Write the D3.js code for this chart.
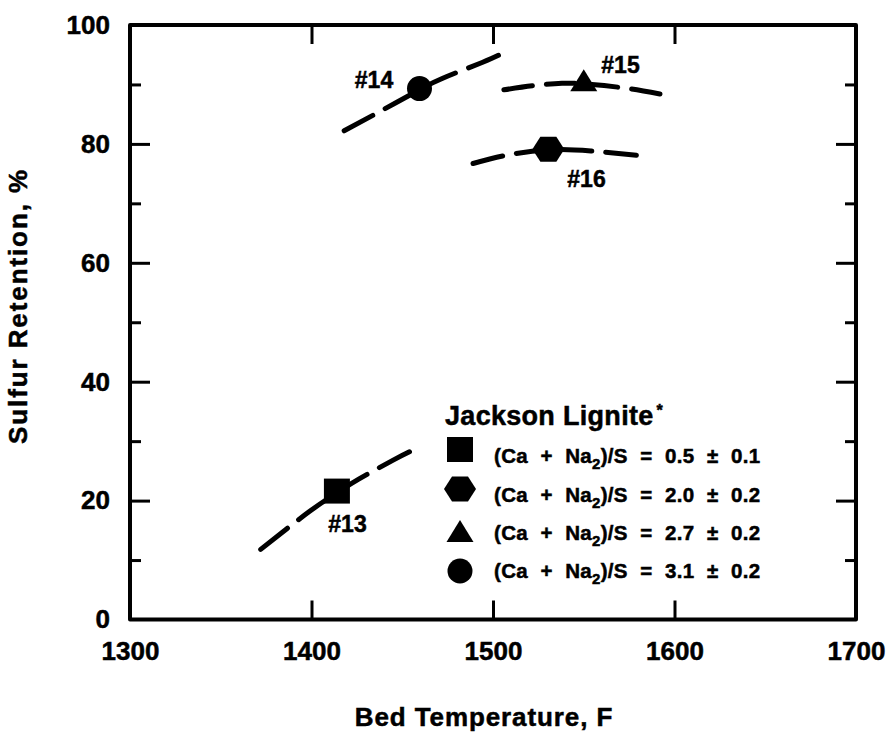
<!DOCTYPE html>
<html>
<head>
<meta charset="utf-8">
<script src="https://cdn.jsdelivr.net/npm/d3@7"></script>
<style>
  html, body { margin: 0; padding: 0; background: #fff; }
  svg { display: block; }
  text { font-family: "Liberation Sans", Arial, Helvetica, sans-serif; font-weight: bold; fill: #000;
         stroke: #000; stroke-width: 0.5px; }
</style>
</head>
<body>
<svg id="chart" width="890" height="733"></svg>
<script>
// Sulfur retention vs. bed temperature, Jackson lignite runs #13-#16
const xTicks = [1300, 1400, 1500, 1600, 1700];
const yMajorTicks = [0, 20, 40, 60, 80, 100];
const yMinorTicks = [10, 30, 50, 70, 90];

// Test points: [bed temperature F, sulfur retention %]
const runs = ["#13", "#16", "#15", "#14"];
const runSymbols = ["square", "hexagon", "triangle", "circle"];
const runTemps = [1414, 1530.5, 1550, 1459.5];
const runRetention = [21.6, 79.1, 90.7, 89.3];

// Dashed trend curves through each run
const curve13 = [[1372, 11.8], [1399, 18.2], [1414, 21.3], [1426, 23.6], [1445, 26.8], [1454, 28.2]];
const curve14 = [[1418, 82.2], [1447, 87.0], [1459.5, 89.1], [1472, 91.0], [1494, 93.7], [1503, 94.9]];
const curve15 = [[1506, 89.1], [1522, 89.8], [1538, 90.2], [1550, 90.1], [1570, 89.5], [1592, 88.4]];
const curve16 = [[1489, 76.7], [1507.5, 78.1], [1530.5, 79.0], [1554, 78.8], [1579, 78.1]];
const curves = [curve13, curve16, curve15, curve14];

// Legend entries
const legendTitle = "Jackson Lignite";
const legendRatios = ["0.5 ± 0.1", "2.0 ± 0.2", "2.7 ± 0.2", "3.1 ± 0.2"];

const svg = d3.select("#chart");
const x = d3.scaleLinear().domain([1300, 1700]).range([130, 856]);
const y = d3.scaleLinear().domain([0, 100]).range([619.5, 25]);

// Tick marks point inward on all four sides
const axes = svg.append("g").attr("class", "axes");

function styleAxis(g) {
  g.select(".domain").remove();
  g.selectAll(".tick line").attr("stroke", "#000").attr("stroke-width", 3);
  g.selectAll(".tick text").style("font-size", "26px").attr("fill", "#000");
}

axes.append("g")
  .attr("transform", `translate(0,${y(0)})`)
  .call(d3.axisBottom(x).tickValues(xTicks).tickSize(-19).tickPadding(22).tickFormat(d3.format("d")))
  .call(styleAxis)
  .call(g => g.selectAll(".tick").filter(d => d === 1300 || d === 1700).select("line").remove());

axes.append("g")
  .attr("transform", `translate(0,${y(100)})`)
  .call(d3.axisTop(x).tickValues([1400, 1500, 1600]).tickSize(-19).tickFormat(""))
  .call(styleAxis);

axes.append("g")
  .attr("transform", `translate(${x(1300)},0)`)
  .call(d3.axisLeft(y).tickValues(yMajorTicks).tickSize(-20).tickPadding(20).tickFormat(d3.format("d")))
  .call(styleAxis)
  .call(g => g.selectAll(".tick").filter(d => d === 0 || d === 100).select("line").remove());

axes.append("g")
  .attr("transform", `translate(${x(1300)},0)`)
  .call(d3.axisLeft(y).tickValues(yMinorTicks).tickSize(-11).tickFormat(""))
  .call(styleAxis);

axes.append("g")
  .attr("transform", `translate(${x(1700)},0)`)
  .call(d3.axisRight(y).tickValues([20, 40, 60, 80]).tickSize(-20).tickFormat(""))
  .call(styleAxis);

axes.append("g")
  .attr("transform", `translate(${x(1700)},0)`)
  .call(d3.axisRight(y).tickValues(yMinorTicks).tickSize(-11).tickFormat(""))
  .call(styleAxis);

// Plot frame
svg.append("rect")
  .attr("x", x(1300)).attr("y", y(100))
  .attr("width", x(1700) - x(1300)).attr("height", y(0) - y(100))
  .attr("fill", "none").attr("stroke", "#000").attr("stroke-width", 4)
  .attr("stroke-linejoin", "round");

// Axis titles
svg.append("text")
  .attr("x", 484).attr("y", 726)
  .attr("text-anchor", "middle")
  .style("font-size", "26px").style("letter-spacing", "0.9px")
  .text("Bed Temperature, F");

svg.append("text")
  .attr("transform", "translate(27,306) rotate(-90)")
  .attr("text-anchor", "middle")
  .style("font-size", "26px").style("letter-spacing", "1.9px")
  .text("Sulfur Retention, %");

// Trend curves: dashes spread so each curve starts and ends on a dash
const line = d3.line().x(d => x(d[0])).y(d => y(d[1])).curve(d3.curveNatural);
svg.append("g").selectAll("path").data(curves).join("path")
  .attr("d", line)
  .attr("fill", "none").attr("stroke", "#000").attr("stroke-width", 5)
  .attr("stroke-linecap", "round")
  .attr("stroke-dasharray", function () {
    const L = this.getTotalLength();
    const gap = 14;
    const n = Math.max(1, Math.round((L + gap) / (29 + gap)));
    const dash = (L - (n - 1) * gap) / n;
    return `${dash},${gap}`;
  });

// Marker shapes
function markerPath(kind) {
  const p = d3.path();
  if (kind === "square") {
    p.rect(-13, -12.5, 26, 25);
  } else if (kind === "hexagon") {
    const R = 16;
    for (let i = 0; i < 6; i++) {
      const a = i * Math.PI / 3;
      const px = R * Math.cos(a), py = R * Math.sin(a) * 0.9;
      if (i === 0) p.moveTo(px, py); else p.lineTo(px, py);
    }
    p.closePath();
  } else if (kind === "triangle") {
    p.moveTo(0, -11); p.lineTo(13.5, 11); p.lineTo(-13.5, 11); p.closePath();
  } else {
    p.arc(0, 0, 12.5, 0, 2 * Math.PI);
  }
  return p.toString();
}

svg.append("g").selectAll("path").data(runs).join("path")
  .attr("d", (d, i) => markerPath(runSymbols[i]))
  .attr("transform", (d, i) => `translate(${x(runTemps[i])},${y(runRetention[i])})`)
  .attr("fill", "#000");

// Run labels
const runLabelPos = [[347.5, 532], [586.5, 187], [620.5, 73], [374, 88]];
svg.append("g").selectAll("text").data(runs).join("text")
  .attr("x", (d, i) => runLabelPos[i][0]).attr("y", (d, i) => runLabelPos[i][1])
  .attr("text-anchor", "middle")
  .style("font-size", "23px")
  .text(d => d);

// Legend
const legend = svg.append("g");
const title = legend.append("text")
  .attr("x", 445).attr("y", 425)
  .style("font-size", "27px").style("letter-spacing", "0.3px");
title.append("tspan").text(legendTitle);
title.append("tspan").attr("dx", 3).attr("dy", -9).style("font-size", "16px").text("*");

const rowBase = [463, 502, 540, 578];
const symCenter = [449.5, 489, 531, 571];
legend.selectAll("path").data(runSymbols).join("path")
  .attr("d", d => markerPath(d))
  .attr("transform", (d, i) => `translate(460,${symCenter[i]})`)
  .attr("fill", "#000");

legend.selectAll("text.row").data(legendRatios).join("text")
  .attr("class", "row")
  .attr("x", 494).attr("y", (d, i) => rowBase[i])
  .style("font-size", "20.5px").style("letter-spacing", "0.3px").style("word-spacing", "6.5px")
  .each(function (d) {
    const t = d3.select(this);
    t.append("tspan").text("(Ca + Na");
    t.append("tspan").attr("dy", 6).style("font-size", "15px").text("2");
    t.append("tspan").attr("dy", -6).text(")/S = " + d);
  });
</script>
</body>
</html>
